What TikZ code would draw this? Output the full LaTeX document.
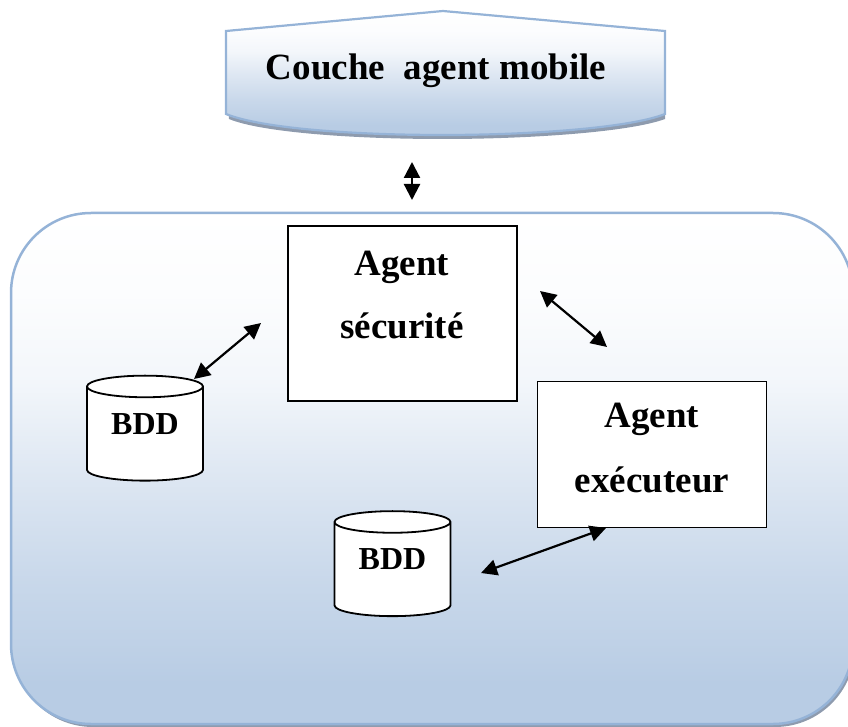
\documentclass[tikz,border=0pt]{standalone}
\usepackage{fontspec}
\setmainfont{Liberation Serif}
\usetikzlibrary{positioning,shapes.geometric,arrows.meta}

\definecolor{lineblue}{HTML}{95B3D7}
\definecolor{fillblue}{HTML}{B8CCE4}
\definecolor{shadowgrey}{HTML}{8E9BAE}
\pgfdeclareverticalshading{paneshade}{100bp}{
	color(0bp)=(fillblue); color(29bp)=(fillblue); color(33bp)=(fillblue!90!white);
	color(39bp)=(fillblue!77!white); color(50bp)=(fillblue!45!white); color(58.5bp)=(fillblue!17!white);
	color(66.5bp)=(fillblue!5!white); color(75bp)=(white); color(100bp)=(white)}
\newcommand{\BddText}{\raisebox{10pt}[\height][\depth]{BDD}}

\begin{document}
\begin{tikzpicture}[x=1pt, y=-1pt,
	panel/.style={rectangle, rounded corners=80pt, minimum width=842pt, minimum height=511pt,
		shading=paneshade, draw=lineblue, line width=2.5pt},
	panelback/.style={rectangle, rounded corners=80pt, minimum width=842pt, minimum height=511pt,
		fill=shadowgrey, draw=none},
	agent/.style={rectangle, draw=black, fill=white, line width=1.8pt},
	bdd/.style={cylinder, shape border rotate=90, shape aspect=0.32, draw=black, fill=white,
		line width=1.8pt, minimum width=116pt, minimum height=105pt, inner sep=0pt,
		font=\bfseries\fontsize{32}{32}\selectfont},
	title/.style={font=\bfseries\fontsize{37}{37}\selectfont, inner sep=0pt, anchor=base},
	label/.style={font=\bfseries\fontsize{37}{37}\selectfont, inner sep=0pt, anchor=base},
	link/.style={{Triangle[length=16pt,width=16pt]}-{Triangle[length=16pt,width=16pt]}, line width=2.2pt}
]
\useasboundingbox (0,0) rectangle (848,727);

% layer on top
\fill [shadowgrey] (226,35) -- (443,15) -- (665,35) -- (665,119)
	.. controls (630,132) and (530,139) .. (443,139)
	.. controls (350,139) and (260,132) .. (229,119) -- cycle;
\shade [shading=paneshade, draw=lineblue, line width=2.2pt] (226,31) -- (443,11) -- (665,31) -- (665,114)
	.. controls (630,128) and (530,135) .. (443,135)
	.. controls (350,135) and (260,128) .. (226,114) -- cycle;
\node [title] (Couche) at (436,80) {Couche\ \ agent mobile};

% big panel
\node [panelback] (PanelBack) at (434,471.5) {};
\node [panel] (Panel) at (432,468.5) {};

\node [agent, minimum width=229pt, minimum height=175pt] (Securite) at (402.5,313.5) {};
\node [label] (SecuriteA) at (402,275) {Agent};
\node [label] (SecuriteB) at (402,338) {sécurité};

\node [agent, minimum width=229pt, minimum height=146pt] (Executeur) at (652,454.5) {};
\node [label] (ExecuteurA) at (652,427) {Agent};
\node [label] (ExecuteurB) at (652,492) {exécuteur};

\node [bdd] (BddA) at (145,434) {\BddText};
\node [bdd] (BddB) at (392.5,569.5) {\BddText};

% free ends of the arrows
\coordinate (TopA) at (412,162);
\coordinate (TopB) at (412,200);
\coordinate (LeftA) at (194,379);
\coordinate (LeftB) at (261,323);
\coordinate (RightA) at (540,291);
\coordinate (RightB) at (607,347);
\coordinate (DownA) at (481,573);
\coordinate (DownB) at (606,528);

\draw [link] (TopA) -- (TopB);
\draw [link] (LeftA) -- (LeftB);
\draw [link] (RightA) -- (RightB);
\draw [link] (DownA) -- (DownB);
\end{tikzpicture}
\end{document}
